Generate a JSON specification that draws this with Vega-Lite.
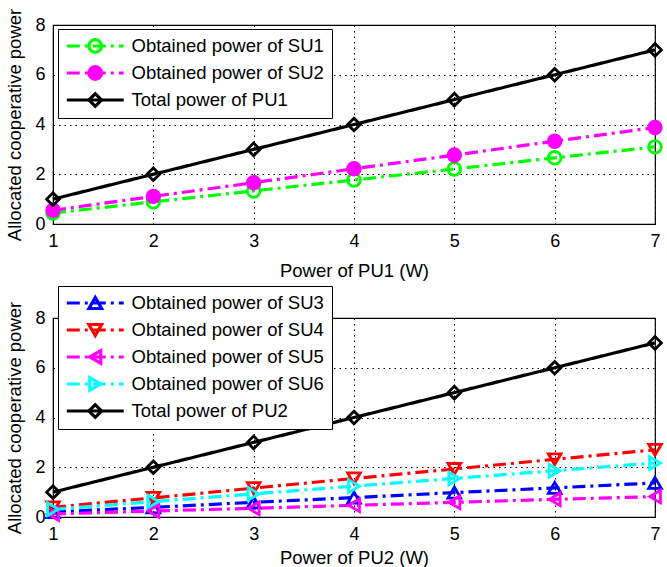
{
  "$schema": "https://vega.github.io/schema/vega-lite/v6.json",
  "padding": {"left": 5, "top": 7, "right": 6, "bottom": 1},
  "spacing": 94,
  "bounds": "flush",
  "resolve": {
    "scale": {"x": "independent", "y": "independent", "color": "independent", "strokeDash": "independent", "stroke": "independent", "fill": "independent", "shape": "independent"},
    "legend": {"color": "independent", "strokeDash": "independent", "stroke": "independent", "fill": "independent", "shape": "independent"}
  },
  "datasets": {
    "top": [
      {"x": 1, "y": 0.44, "series": "Obtained power of SU1"},
      {"x": 2, "y": 0.89, "series": "Obtained power of SU1"},
      {"x": 3, "y": 1.33, "series": "Obtained power of SU1"},
      {"x": 4, "y": 1.77, "series": "Obtained power of SU1"},
      {"x": 5, "y": 2.21, "series": "Obtained power of SU1"},
      {"x": 6, "y": 2.66, "series": "Obtained power of SU1"},
      {"x": 7, "y": 3.1, "series": "Obtained power of SU1"},
      {"x": 1, "y": 0.55, "series": "Obtained power of SU2"},
      {"x": 2, "y": 1.11, "series": "Obtained power of SU2"},
      {"x": 3, "y": 1.66, "series": "Obtained power of SU2"},
      {"x": 4, "y": 2.22, "series": "Obtained power of SU2"},
      {"x": 5, "y": 2.77, "series": "Obtained power of SU2"},
      {"x": 6, "y": 3.33, "series": "Obtained power of SU2"},
      {"x": 7, "y": 3.88, "series": "Obtained power of SU2"},
      {"x": 1, "y": 1, "series": "Total power of PU1"},
      {"x": 2, "y": 2, "series": "Total power of PU1"},
      {"x": 3, "y": 3, "series": "Total power of PU1"},
      {"x": 4, "y": 4, "series": "Total power of PU1"},
      {"x": 5, "y": 5, "series": "Total power of PU1"},
      {"x": 6, "y": 6, "series": "Total power of PU1"},
      {"x": 7, "y": 7, "series": "Total power of PU1"}
    ],
    "bottom": [
      {"x": 1, "y": 0.2, "series": "Obtained power of SU3"},
      {"x": 2, "y": 0.39, "series": "Obtained power of SU3"},
      {"x": 3, "y": 0.59, "series": "Obtained power of SU3"},
      {"x": 4, "y": 0.78, "series": "Obtained power of SU3"},
      {"x": 5, "y": 0.98, "series": "Obtained power of SU3"},
      {"x": 6, "y": 1.17, "series": "Obtained power of SU3"},
      {"x": 7, "y": 1.37, "series": "Obtained power of SU3"},
      {"x": 1, "y": 0.39, "series": "Obtained power of SU4"},
      {"x": 2, "y": 0.77, "series": "Obtained power of SU4"},
      {"x": 3, "y": 1.16, "series": "Obtained power of SU4"},
      {"x": 4, "y": 1.55, "series": "Obtained power of SU4"},
      {"x": 5, "y": 1.93, "series": "Obtained power of SU4"},
      {"x": 6, "y": 2.32, "series": "Obtained power of SU4"},
      {"x": 7, "y": 2.7, "series": "Obtained power of SU4"},
      {"x": 1, "y": 0.12, "series": "Obtained power of SU5"},
      {"x": 2, "y": 0.24, "series": "Obtained power of SU5"},
      {"x": 3, "y": 0.35, "series": "Obtained power of SU5"},
      {"x": 4, "y": 0.47, "series": "Obtained power of SU5"},
      {"x": 5, "y": 0.59, "series": "Obtained power of SU5"},
      {"x": 6, "y": 0.71, "series": "Obtained power of SU5"},
      {"x": 7, "y": 0.82, "series": "Obtained power of SU5"},
      {"x": 1, "y": 0.31, "series": "Obtained power of SU6"},
      {"x": 2, "y": 0.62, "series": "Obtained power of SU6"},
      {"x": 3, "y": 0.93, "series": "Obtained power of SU6"},
      {"x": 4, "y": 1.24, "series": "Obtained power of SU6"},
      {"x": 5, "y": 1.55, "series": "Obtained power of SU6"},
      {"x": 6, "y": 1.86, "series": "Obtained power of SU6"},
      {"x": 7, "y": 2.17, "series": "Obtained power of SU6"},
      {"x": 1, "y": 1, "series": "Total power of PU2"},
      {"x": 2, "y": 2, "series": "Total power of PU2"},
      {"x": 3, "y": 3, "series": "Total power of PU2"},
      {"x": 4, "y": 4, "series": "Total power of PU2"},
      {"x": 5, "y": 5, "series": "Total power of PU2"},
      {"x": 6, "y": 6, "series": "Total power of PU2"},
      {"x": 7, "y": 7, "series": "Total power of PU2"}
    ]
  },
  "vconcat": [
    {
      "width": 602,
      "height": 199,
      "data": {"name": "top"},
      "resolve": {"legend": {"color": "independent", "strokeDash": "independent", "stroke": "independent", "fill": "independent", "shape": "independent"}},
      "layer": [
        {
          "mark": {"type": "line", "strokeWidth": 3.2},
          "encoding": {
            "x": {"field": "x", "type": "quantitative", "scale": {"domain": [1, 7], "nice": false, "zero": false}, "axis": {"values": [1, 2, 3, 4, 5, 6, 7], "format": "d", "title": "Power of PU1 (W)", "titlePadding": 11}},
            "y": {"field": "y", "type": "quantitative", "scale": {"domain": [0, 8], "nice": false}, "axis": {"values": [0, 2, 4, 6, 8], "format": "d", "title": "Allocated cooperative power"}},
            "color": {"field": "series", "type": "nominal", "scale": {"domain": ["Obtained power of SU1", "Obtained power of SU2", "Total power of PU1"], "range": ["#00ff00", "#ff00ff", "#000000"]},
              "legend": {"orient": "none", "legendX": 5, "legendY": 4, "title": null, "symbolType": "M-4.5,0L4.5,0", "symbolSize": 160, "symbolStrokeWidth": 3.2, "symbolOffset": 20, "labelOffset": 27, "clipHeight": 18, "strokeColor": "#000000", "fillColor": "#ffffff"}},
            "strokeDash": {"field": "series", "type": "nominal", "scale": {"domain": ["Obtained power of SU1", "Obtained power of SU2", "Total power of PU1"], "range": [[13, 5, 3, 5], [13, 5, 3, 5], [1, 0]]},
              "legend": {"orient": "none", "legendX": 5, "legendY": 4, "title": null, "symbolType": "M-4.5,0L4.5,0", "symbolSize": 160, "symbolStrokeWidth": 3.2, "symbolOffset": 20, "labelOffset": 27, "clipHeight": 18, "strokeColor": "#000000", "fillColor": "#ffffff"}}
          }
        },
        {
          "mark": {"type": "point", "strokeWidth": 2.8, "opacity": 1, "size": 160},
          "encoding": {
            "x": {"field": "x", "type": "quantitative"},
            "y": {"field": "y", "type": "quantitative"},
            "stroke": {"field": "series", "type": "nominal", "scale": {"domain": ["Obtained power of SU1", "Obtained power of SU2", "Total power of PU1"], "range": ["#00ff00", "#ff00ff", "#000000"]},
              "legend": {"orient": "none", "legendX": 5, "legendY": 4, "title": null, "symbolSize": 160, "symbolStrokeWidth": 3.2, "symbolOffset": 20, "labelOffset": 27, "clipHeight": 18, "labelOpacity": 0}},
            "fill": {"field": "series", "type": "nominal", "scale": {"domain": ["Obtained power of SU1", "Obtained power of SU2", "Total power of PU1"], "range": ["transparent", "#ff00ff", "transparent"]},
              "legend": {"orient": "none", "legendX": 5, "legendY": 4, "title": null, "symbolSize": 160, "symbolStrokeWidth": 3.2, "symbolOffset": 20, "labelOffset": 27, "clipHeight": 18, "labelOpacity": 0}},
            "shape": {"field": "series", "type": "nominal", "scale": {"domain": ["Obtained power of SU1", "Obtained power of SU2", "Total power of PU1"], "range": ["circle", "circle", "diamond"]},
              "legend": {"orient": "none", "legendX": 5, "legendY": 4, "title": null, "symbolSize": 160, "symbolStrokeWidth": 3.2, "symbolOffset": 20, "labelOffset": 27, "clipHeight": 18, "labelOpacity": 0}}
          }
        }
      ]
    },
    {
      "width": 602,
      "height": 199,
      "data": {"name": "bottom"},
      "resolve": {"legend": {"color": "independent", "strokeDash": "independent", "stroke": "independent", "fill": "independent", "shape": "independent"}},
      "layer": [
        {
          "mark": {"type": "line", "strokeWidth": 3.2},
          "encoding": {
            "x": {"field": "x", "type": "quantitative", "scale": {"domain": [1, 7], "nice": false, "zero": false}, "axis": {"values": [1, 2, 3, 4, 5, 6, 7], "format": "d", "title": "Power of PU2 (W)", "titlePadding": 5}},
            "y": {"field": "y", "type": "quantitative", "scale": {"domain": [0, 8], "nice": false}, "axis": {"values": [0, 2, 4, 6, 8], "format": "d", "title": "Allocated cooperative power"}},
            "color": {"field": "series", "type": "nominal", "scale": {"domain": ["Obtained power of SU3", "Obtained power of SU4", "Obtained power of SU5", "Obtained power of SU6", "Total power of PU2"], "range": ["#0000ff", "#ff0000", "#ff00ff", "#00ffff", "#000000"]},
              "legend": {"orient": "none", "legendX": 5, "legendY": -32, "title": null, "symbolType": "M-4.5,0L4.5,0", "symbolSize": 160, "symbolStrokeWidth": 3.2, "symbolOffset": 20, "labelOffset": 27, "clipHeight": 18, "strokeColor": "#000000", "fillColor": "#ffffff"}},
            "strokeDash": {"field": "series", "type": "nominal", "scale": {"domain": ["Obtained power of SU3", "Obtained power of SU4", "Obtained power of SU5", "Obtained power of SU6", "Total power of PU2"], "range": [[13, 5, 3, 5], [13, 5, 3, 5], [13, 5, 3, 5], [13, 5, 3, 5], [1, 0]]},
              "legend": {"orient": "none", "legendX": 5, "legendY": -32, "title": null, "symbolType": "M-4.5,0L4.5,0", "symbolSize": 160, "symbolStrokeWidth": 3.2, "symbolOffset": 20, "labelOffset": 27, "clipHeight": 18, "strokeColor": "#000000", "fillColor": "#ffffff"}}
          }
        },
        {
          "mark": {"type": "point", "strokeWidth": 2.8, "opacity": 1, "size": 160},
          "encoding": {
            "x": {"field": "x", "type": "quantitative"},
            "y": {"field": "y", "type": "quantitative"},
            "stroke": {"field": "series", "type": "nominal", "scale": {"domain": ["Obtained power of SU3", "Obtained power of SU4", "Obtained power of SU5", "Obtained power of SU6", "Total power of PU2"], "range": ["#0000ff", "#ff0000", "#ff00ff", "#00ffff", "#000000"]},
              "legend": {"orient": "none", "legendX": 5, "legendY": -32, "title": null, "symbolSize": 160, "symbolStrokeWidth": 3.2, "symbolOffset": 20, "labelOffset": 27, "clipHeight": 18, "labelOpacity": 0}},
            "fill": {"field": "series", "type": "nominal", "scale": {"domain": ["Obtained power of SU3", "Obtained power of SU4", "Obtained power of SU5", "Obtained power of SU6", "Total power of PU2"], "range": ["transparent", "transparent", "transparent", "transparent", "transparent"]},
              "legend": {"orient": "none", "legendX": 5, "legendY": -32, "title": null, "symbolSize": 160, "symbolStrokeWidth": 3.2, "symbolOffset": 20, "labelOffset": 27, "clipHeight": 18, "labelOpacity": 0}},
            "shape": {"field": "series", "type": "nominal", "scale": {"domain": ["Obtained power of SU3", "Obtained power of SU4", "Obtained power of SU5", "Obtained power of SU6", "Total power of PU2"], "range": ["triangle-up", "triangle-down", "triangle-left", "triangle-right", "diamond"]},
              "legend": {"orient": "none", "legendX": 5, "legendY": -32, "title": null, "symbolSize": 160, "symbolStrokeWidth": 3.2, "symbolOffset": 20, "labelOffset": 27, "clipHeight": 18, "labelOpacity": 0}}
          }
        }
      ]
    }
  ],
  "config": {
    "font": "Liberation Sans",
    "view": {"stroke": "#000000", "strokeWidth": 1.2},
    "axis": {
      "labelFontSize": 18, "titleFontSize": 18.5, "titleFontWeight": "normal",
      "labelColor": "#000000", "titleColor": "#000000", "domainColor": "#000000",
      "ticks": false, "tickSize": 0, "labelPadding": 8, "titlePadding": 10, "labelFlush": false,
      "gridColor": "#000000", "gridDash": [1.5, 4], "gridOpacity": 1, "gridWidth": 1
    },
    "legend": {
      "labelFontSize": 18.5, "labelColor": "#000000", "rowPadding": 8, "padding": 8, "labelLimit": 400
    }
  }
}
